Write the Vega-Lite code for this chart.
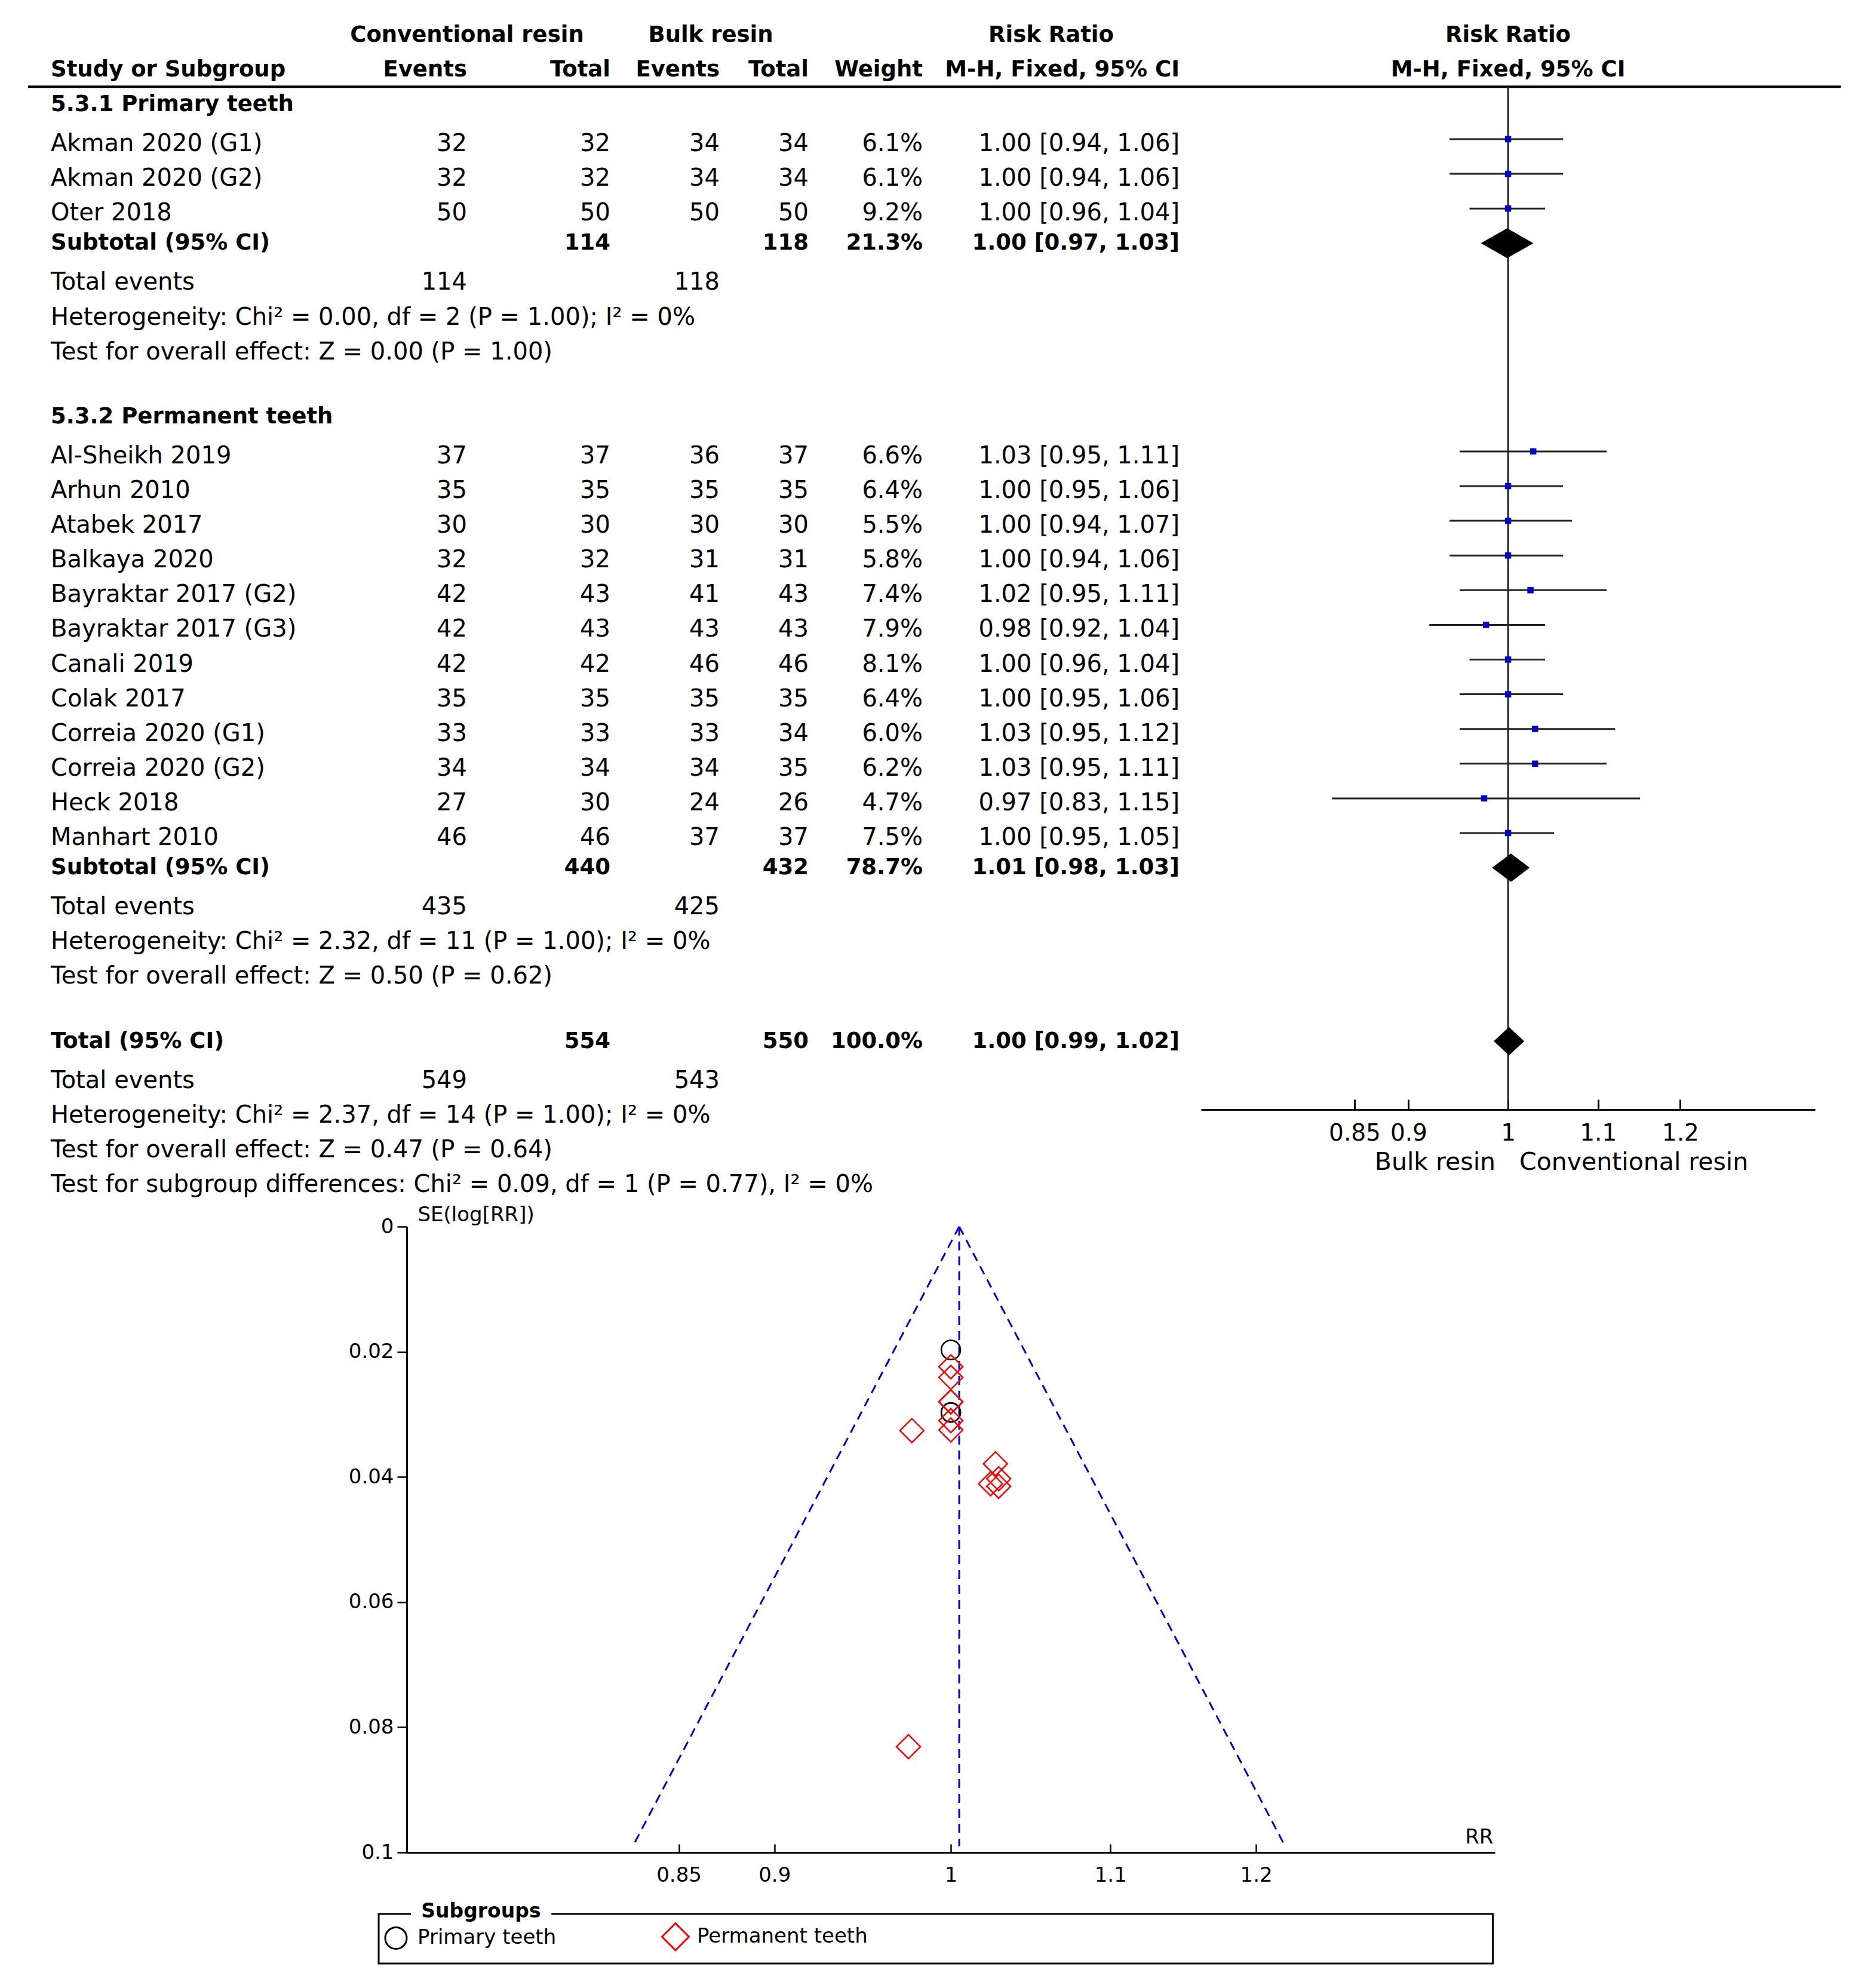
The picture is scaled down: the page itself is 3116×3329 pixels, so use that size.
{
  "$schema": "https://vega.github.io/schema/vega-lite/v6.json",
  "width": 3116,
  "height": 3329,
  "autosize": {"type": "none"},
  "padding": 0,
  "background": "white",
  "config": {"font": "DejaVu Sans", "view": {"stroke": null}},
  "datasets": {
    "table": [
      {"line": -2, "kind": "bold", "label": "Study or Subgroup", "e1": "Events", "n1": "Total", "e2": "Events", "n2": "Total", "weight": "Weight", "ci": "M-H, Fixed, 95% CI"},
      {"line": -1, "kind": "bold", "label": "5.3.1 Primary teeth"},
      {"line": 0, "kind": "row", "label": "Akman 2020 (G1)", "e1": 32, "n1": 32, "e2": 34, "n2": 34, "weight": "6.1%", "ci": "1.00 [0.94, 1.06]"},
      {"line": 1, "kind": "row", "label": "Akman 2020 (G2)", "e1": 32, "n1": 32, "e2": 34, "n2": 34, "weight": "6.1%", "ci": "1.00 [0.94, 1.06]"},
      {"line": 2, "kind": "row", "label": "Oter 2018", "e1": 50, "n1": 50, "e2": 50, "n2": 50, "weight": "9.2%", "ci": "1.00 [0.96, 1.04]"},
      {"line": 3, "kind": "bold", "label": "Subtotal (95% CI)", "n1": 114, "n2": 118, "weight": "21.3%", "ci": "1.00 [0.97, 1.03]"},
      {"line": 4, "kind": "row", "label": "Total events", "e1": 114, "e2": 118},
      {"line": 5, "kind": "row", "label": "Heterogeneity: Chi² = 0.00, df = 2 (P = 1.00); I² = 0%"},
      {"line": 6, "kind": "row", "label": "Test for overall effect: Z = 0.00 (P = 1.00)"},
      {"line": 8, "kind": "bold", "label": "5.3.2 Permanent teeth"},
      {"line": 9, "kind": "row", "label": "Al-Sheikh 2019", "e1": 37, "n1": 37, "e2": 36, "n2": 37, "weight": "6.6%", "ci": "1.03 [0.95, 1.11]"},
      {"line": 10, "kind": "row", "label": "Arhun 2010", "e1": 35, "n1": 35, "e2": 35, "n2": 35, "weight": "6.4%", "ci": "1.00 [0.95, 1.06]"},
      {"line": 11, "kind": "row", "label": "Atabek 2017", "e1": 30, "n1": 30, "e2": 30, "n2": 30, "weight": "5.5%", "ci": "1.00 [0.94, 1.07]"},
      {"line": 12, "kind": "row", "label": "Balkaya 2020", "e1": 32, "n1": 32, "e2": 31, "n2": 31, "weight": "5.8%", "ci": "1.00 [0.94, 1.06]"},
      {"line": 13, "kind": "row", "label": "Bayraktar 2017 (G2)", "e1": 42, "n1": 43, "e2": 41, "n2": 43, "weight": "7.4%", "ci": "1.02 [0.95, 1.11]"},
      {"line": 14, "kind": "row", "label": "Bayraktar 2017 (G3)", "e1": 42, "n1": 43, "e2": 43, "n2": 43, "weight": "7.9%", "ci": "0.98 [0.92, 1.04]"},
      {"line": 15, "kind": "row", "label": "Canali 2019", "e1": 42, "n1": 42, "e2": 46, "n2": 46, "weight": "8.1%", "ci": "1.00 [0.96, 1.04]"},
      {"line": 16, "kind": "row", "label": "Colak 2017", "e1": 35, "n1": 35, "e2": 35, "n2": 35, "weight": "6.4%", "ci": "1.00 [0.95, 1.06]"},
      {"line": 17, "kind": "row", "label": "Correia 2020 (G1)", "e1": 33, "n1": 33, "e2": 33, "n2": 34, "weight": "6.0%", "ci": "1.03 [0.95, 1.12]"},
      {"line": 18, "kind": "row", "label": "Correia 2020 (G2)", "e1": 34, "n1": 34, "e2": 34, "n2": 35, "weight": "6.2%", "ci": "1.03 [0.95, 1.11]"},
      {"line": 19, "kind": "row", "label": "Heck 2018", "e1": 27, "n1": 30, "e2": 24, "n2": 26, "weight": "4.7%", "ci": "0.97 [0.83, 1.15]"},
      {"line": 20, "kind": "row", "label": "Manhart 2010", "e1": 46, "n1": 46, "e2": 37, "n2": 37, "weight": "7.5%", "ci": "1.00 [0.95, 1.05]"},
      {"line": 21, "kind": "bold", "label": "Subtotal (95% CI)", "n1": 440, "n2": 432, "weight": "78.7%", "ci": "1.01 [0.98, 1.03]"},
      {"line": 22, "kind": "row", "label": "Total events", "e1": 435, "e2": 425},
      {"line": 23, "kind": "row", "label": "Heterogeneity: Chi² = 2.32, df = 11 (P = 1.00); I² = 0%"},
      {"line": 24, "kind": "row", "label": "Test for overall effect: Z = 0.50 (P = 0.62)"},
      {"line": 26, "kind": "bold", "label": "Total (95% CI)", "n1": 554, "n2": 550, "weight": "100.0%", "ci": "1.00 [0.99, 1.02]"},
      {"line": 27, "kind": "row", "label": "Total events", "e1": 549, "e2": 543},
      {"line": 28, "kind": "row", "label": "Heterogeneity: Chi² = 2.37, df = 14 (P = 1.00); I² = 0%"},
      {"line": 29, "kind": "row", "label": "Test for overall effect: Z = 0.47 (P = 0.64)"},
      {"line": 30, "kind": "row", "label": "Test for subgroup differences: Chi² = 0.09, df = 1 (P = 0.77), I² = 0%"}
    ],
    "spans": [
      {"label": "Conventional resin", "line": -3, "col": 2},
      {"label": "Bulk resin", "line": -3, "col": 4},
      {"label": "Risk Ratio", "line": -3, "col": 8}
    ],
    "studies": [
      {"study": "Akman 2020 (G1)", "subgroup": "Primary teeth", "line": 0, "rr": 1.0, "lo": 0.94, "hi": 1.06, "se": 0.0297},
      {"study": "Akman 2020 (G2)", "subgroup": "Primary teeth", "line": 1, "rr": 1.0, "lo": 0.94, "hi": 1.06, "se": 0.0297},
      {"study": "Oter 2018", "subgroup": "Primary teeth", "line": 2, "rr": 1.0, "lo": 0.96, "hi": 1.04, "se": 0.0197},
      {"study": "Al-Sheikh 2019", "subgroup": "Permanent teeth", "line": 9, "rr": 1.027, "lo": 0.95, "hi": 1.11, "se": 0.0379},
      {"study": "Arhun 2010", "subgroup": "Permanent teeth", "line": 10, "rr": 1.0, "lo": 0.95, "hi": 1.06, "se": 0.028},
      {"study": "Atabek 2017", "subgroup": "Permanent teeth", "line": 11, "rr": 1.0, "lo": 0.94, "hi": 1.07, "se": 0.0325},
      {"study": "Balkaya 2020", "subgroup": "Permanent teeth", "line": 12, "rr": 1.0, "lo": 0.94, "hi": 1.06, "se": 0.031},
      {"study": "Bayraktar 2017 (G2)", "subgroup": "Permanent teeth", "line": 13, "rr": 1.024, "lo": 0.95, "hi": 1.11, "se": 0.0411},
      {"study": "Bayraktar 2017 (G3)", "subgroup": "Permanent teeth", "line": 14, "rr": 0.977, "lo": 0.92, "hi": 1.04, "se": 0.0326},
      {"study": "Canali 2019", "subgroup": "Permanent teeth", "line": 15, "rr": 1.0, "lo": 0.96, "hi": 1.04, "se": 0.0224},
      {"study": "Colak 2017", "subgroup": "Permanent teeth", "line": 16, "rr": 1.0, "lo": 0.95, "hi": 1.06, "se": 0.028},
      {"study": "Correia 2020 (G1)", "subgroup": "Permanent teeth", "line": 17, "rr": 1.029, "lo": 0.95, "hi": 1.12, "se": 0.0415},
      {"study": "Correia 2020 (G2)", "subgroup": "Permanent teeth", "line": 18, "rr": 1.029, "lo": 0.95, "hi": 1.11, "se": 0.0403},
      {"study": "Heck 2018", "subgroup": "Permanent teeth", "line": 19, "rr": 0.975, "lo": 0.83, "hi": 1.15, "se": 0.0831},
      {"study": "Manhart 2010", "subgroup": "Permanent teeth", "line": 20, "rr": 1.0, "lo": 0.95, "hi": 1.05, "se": 0.0241}
    ],
    "pooled": [
      {"group": "5.3.1 Primary teeth", "line": 3, "rr": 0.999},
      {"group": "5.3.2 Permanent teeth", "line": 21, "rr": 1.003},
      {"group": "Total", "line": 26, "rr": 1.001}
    ],
    "funnel": [
      {"side": "lower", "rr": 1.005, "se": 0},
      {"side": "lower", "rr": 0.827, "se": 0.099},
      {"side": "estimate", "rr": 1.005, "se": 0},
      {"side": "estimate", "rr": 1.005, "se": 0.099},
      {"side": "upper", "rr": 1.005, "se": 0},
      {"side": "upper", "rr": 1.221, "se": 0.099}
    ]
  },
  "layer": [
    {
      "data": {"values": [{}]},
      "mark": {"type": "rule", "color": "black", "strokeWidth": 4},
      "encoding": {
        "x": {"datum": 0, "type": "quantitative", "scale": {"domain": [0,1,2,3,4,5,6,7,8,9,10], "range": [47,85,782,1022,1190,1205,1354,1545,1760,1975,3082], "nice": false, "zero": false}, "axis": null},
        "x2": {"datum": 10},
        "y": {"datum": -1.65, "type": "quantitative", "scale": {"domain": [0, 30], "range": [241, 1984], "nice": false, "zero": false}, "axis": null}
      }
    },
    {
      "data": {"name": "spans"},
      "mark": {"type": "text", "align": "center", "baseline": "middle", "fontWeight": "bold", "fontSize": 37, "dy": -8},
      "encoding": {
        "x": {"field": "col", "type": "quantitative", "scale": {"domain": [0,1,2,3,4,5,6,7,8,9,10], "range": [47,85,782,1022,1190,1205,1354,1545,1760,1975,3082], "nice": false, "zero": false}, "axis": null},
        "y": {"field": "line", "type": "quantitative", "scale": {"domain": [0, 30], "range": [241, 1984], "nice": false, "zero": false}, "axis": null},
        "text": {"field": "label", "type": "nominal"}
      }
    },
    {
      "data": {"name": "table"},
      "transform": [{"filter": "datum.kind === 'row'"}],
      "mark": {"type": "text", "align": "left", "baseline": "middle", "fontSize": 40},
      "encoding": {
        "x": {"datum": 1, "type": "quantitative", "scale": {"domain": [0,1,2,3,4,5,6,7,8,9,10], "range": [47,85,782,1022,1190,1205,1354,1545,1760,1975,3082], "nice": false, "zero": false}, "axis": null},
        "y": {"field": "line", "type": "quantitative", "scale": {"domain": [0, 30], "range": [241, 1984], "nice": false, "zero": false}, "axis": null},
        "text": {"field": "label", "type": "nominal"}
      }
    },
    {
      "data": {"name": "table"},
      "transform": [{"filter": "datum.kind === 'row' && isValid(datum.e1)"}],
      "mark": {"type": "text", "align": "right", "baseline": "middle", "fontSize": 40},
      "encoding": {
        "x": {"datum": 2, "type": "quantitative", "scale": {"domain": [0,1,2,3,4,5,6,7,8,9,10], "range": [47,85,782,1022,1190,1205,1354,1545,1760,1975,3082], "nice": false, "zero": false}, "axis": null},
        "y": {"field": "line", "type": "quantitative", "scale": {"domain": [0, 30], "range": [241, 1984], "nice": false, "zero": false}, "axis": null},
        "text": {"field": "e1", "type": "nominal"}
      }
    },
    {
      "data": {"name": "table"},
      "transform": [{"filter": "datum.kind === 'row' && isValid(datum.n1)"}],
      "mark": {"type": "text", "align": "right", "baseline": "middle", "fontSize": 40},
      "encoding": {
        "x": {"datum": 3, "type": "quantitative", "scale": {"domain": [0,1,2,3,4,5,6,7,8,9,10], "range": [47,85,782,1022,1190,1205,1354,1545,1760,1975,3082], "nice": false, "zero": false}, "axis": null},
        "y": {"field": "line", "type": "quantitative", "scale": {"domain": [0, 30], "range": [241, 1984], "nice": false, "zero": false}, "axis": null},
        "text": {"field": "n1", "type": "nominal"}
      }
    },
    {
      "data": {"name": "table"},
      "transform": [{"filter": "datum.kind === 'row' && isValid(datum.e2)"}],
      "mark": {"type": "text", "align": "right", "baseline": "middle", "fontSize": 40},
      "encoding": {
        "x": {"datum": 5, "type": "quantitative", "scale": {"domain": [0,1,2,3,4,5,6,7,8,9,10], "range": [47,85,782,1022,1190,1205,1354,1545,1760,1975,3082], "nice": false, "zero": false}, "axis": null},
        "y": {"field": "line", "type": "quantitative", "scale": {"domain": [0, 30], "range": [241, 1984], "nice": false, "zero": false}, "axis": null},
        "text": {"field": "e2", "type": "nominal"}
      }
    },
    {
      "data": {"name": "table"},
      "transform": [{"filter": "datum.kind === 'row' && isValid(datum.n2)"}],
      "mark": {"type": "text", "align": "right", "baseline": "middle", "fontSize": 40},
      "encoding": {
        "x": {"datum": 6, "type": "quantitative", "scale": {"domain": [0,1,2,3,4,5,6,7,8,9,10], "range": [47,85,782,1022,1190,1205,1354,1545,1760,1975,3082], "nice": false, "zero": false}, "axis": null},
        "y": {"field": "line", "type": "quantitative", "scale": {"domain": [0, 30], "range": [241, 1984], "nice": false, "zero": false}, "axis": null},
        "text": {"field": "n2", "type": "nominal"}
      }
    },
    {
      "data": {"name": "table"},
      "transform": [{"filter": "datum.kind === 'row' && isValid(datum.weight)"}],
      "mark": {"type": "text", "align": "right", "baseline": "middle", "fontSize": 40},
      "encoding": {
        "x": {"datum": 7, "type": "quantitative", "scale": {"domain": [0,1,2,3,4,5,6,7,8,9,10], "range": [47,85,782,1022,1190,1205,1354,1545,1760,1975,3082], "nice": false, "zero": false}, "axis": null},
        "y": {"field": "line", "type": "quantitative", "scale": {"domain": [0, 30], "range": [241, 1984], "nice": false, "zero": false}, "axis": null},
        "text": {"field": "weight", "type": "nominal"}
      }
    },
    {
      "data": {"name": "table"},
      "transform": [{"filter": "datum.kind === 'row' && isValid(datum.ci)"}],
      "mark": {"type": "text", "align": "right", "baseline": "middle", "fontSize": 40},
      "encoding": {
        "x": {"datum": 9, "type": "quantitative", "scale": {"domain": [0,1,2,3,4,5,6,7,8,9,10], "range": [47,85,782,1022,1190,1205,1354,1545,1760,1975,3082], "nice": false, "zero": false}, "axis": null},
        "y": {"field": "line", "type": "quantitative", "scale": {"domain": [0, 30], "range": [241, 1984], "nice": false, "zero": false}, "axis": null},
        "text": {"field": "ci", "type": "nominal"}
      }
    },
    {
      "data": {"name": "table"},
      "transform": [{"filter": "datum.kind === 'bold'"}],
      "mark": {"type": "text", "align": "left", "baseline": "middle", "fontSize": 37, "fontWeight": "bold", "dy": -8},
      "encoding": {
        "x": {"datum": 1, "type": "quantitative", "scale": {"domain": [0,1,2,3,4,5,6,7,8,9,10], "range": [47,85,782,1022,1190,1205,1354,1545,1760,1975,3082], "nice": false, "zero": false}, "axis": null},
        "y": {"field": "line", "type": "quantitative", "scale": {"domain": [0, 30], "range": [241, 1984], "nice": false, "zero": false}, "axis": null},
        "text": {"field": "label", "type": "nominal"}
      }
    },
    {
      "data": {"name": "table"},
      "transform": [{"filter": "datum.kind === 'bold' && isValid(datum.e1)"}],
      "mark": {"type": "text", "align": "right", "baseline": "middle", "fontSize": 37, "fontWeight": "bold", "dy": -8},
      "encoding": {
        "x": {"datum": 2, "type": "quantitative", "scale": {"domain": [0,1,2,3,4,5,6,7,8,9,10], "range": [47,85,782,1022,1190,1205,1354,1545,1760,1975,3082], "nice": false, "zero": false}, "axis": null},
        "y": {"field": "line", "type": "quantitative", "scale": {"domain": [0, 30], "range": [241, 1984], "nice": false, "zero": false}, "axis": null},
        "text": {"field": "e1", "type": "nominal"}
      }
    },
    {
      "data": {"name": "table"},
      "transform": [{"filter": "datum.kind === 'bold' && isValid(datum.n1)"}],
      "mark": {"type": "text", "align": "right", "baseline": "middle", "fontSize": 37, "fontWeight": "bold", "dy": -8},
      "encoding": {
        "x": {"datum": 3, "type": "quantitative", "scale": {"domain": [0,1,2,3,4,5,6,7,8,9,10], "range": [47,85,782,1022,1190,1205,1354,1545,1760,1975,3082], "nice": false, "zero": false}, "axis": null},
        "y": {"field": "line", "type": "quantitative", "scale": {"domain": [0, 30], "range": [241, 1984], "nice": false, "zero": false}, "axis": null},
        "text": {"field": "n1", "type": "nominal"}
      }
    },
    {
      "data": {"name": "table"},
      "transform": [{"filter": "datum.kind === 'bold' && isValid(datum.e2)"}],
      "mark": {"type": "text", "align": "right", "baseline": "middle", "fontSize": 37, "fontWeight": "bold", "dy": -8},
      "encoding": {
        "x": {"datum": 5, "type": "quantitative", "scale": {"domain": [0,1,2,3,4,5,6,7,8,9,10], "range": [47,85,782,1022,1190,1205,1354,1545,1760,1975,3082], "nice": false, "zero": false}, "axis": null},
        "y": {"field": "line", "type": "quantitative", "scale": {"domain": [0, 30], "range": [241, 1984], "nice": false, "zero": false}, "axis": null},
        "text": {"field": "e2", "type": "nominal"}
      }
    },
    {
      "data": {"name": "table"},
      "transform": [{"filter": "datum.kind === 'bold' && isValid(datum.n2)"}],
      "mark": {"type": "text", "align": "right", "baseline": "middle", "fontSize": 37, "fontWeight": "bold", "dy": -8},
      "encoding": {
        "x": {"datum": 6, "type": "quantitative", "scale": {"domain": [0,1,2,3,4,5,6,7,8,9,10], "range": [47,85,782,1022,1190,1205,1354,1545,1760,1975,3082], "nice": false, "zero": false}, "axis": null},
        "y": {"field": "line", "type": "quantitative", "scale": {"domain": [0, 30], "range": [241, 1984], "nice": false, "zero": false}, "axis": null},
        "text": {"field": "n2", "type": "nominal"}
      }
    },
    {
      "data": {"name": "table"},
      "transform": [{"filter": "datum.kind === 'bold' && isValid(datum.weight)"}],
      "mark": {"type": "text", "align": "right", "baseline": "middle", "fontSize": 37, "fontWeight": "bold", "dy": -8},
      "encoding": {
        "x": {"datum": 7, "type": "quantitative", "scale": {"domain": [0,1,2,3,4,5,6,7,8,9,10], "range": [47,85,782,1022,1190,1205,1354,1545,1760,1975,3082], "nice": false, "zero": false}, "axis": null},
        "y": {"field": "line", "type": "quantitative", "scale": {"domain": [0, 30], "range": [241, 1984], "nice": false, "zero": false}, "axis": null},
        "text": {"field": "weight", "type": "nominal"}
      }
    },
    {
      "data": {"name": "table"},
      "transform": [{"filter": "datum.kind === 'bold' && isValid(datum.ci)"}],
      "mark": {"type": "text", "align": "right", "baseline": "middle", "fontSize": 37, "fontWeight": "bold", "dy": -8},
      "encoding": {
        "x": {"datum": 9, "type": "quantitative", "scale": {"domain": [0,1,2,3,4,5,6,7,8,9,10], "range": [47,85,782,1022,1190,1205,1354,1545,1760,1975,3082], "nice": false, "zero": false}, "axis": null},
        "y": {"field": "line", "type": "quantitative", "scale": {"domain": [0, 30], "range": [241, 1984], "nice": false, "zero": false}, "axis": null},
        "text": {"field": "ci", "type": "nominal"}
      }
    },
    {
      "data": {"values": [{}]},
      "mark": {"type": "rule", "color": "#222222", "strokeWidth": 3},
      "encoding": {
        "x": {"datum": 1, "type": "quantitative", "scale": {"type": "log", "domain": [0.7225, 1.384], "range": [2011, 3039]}, "axis": null},
        "y": {"datum": -1.52, "type": "quantitative", "scale": {"domain": [0, 30], "range": [233, 1976], "nice": false, "zero": false}, "axis": null},
        "y2": {"datum": 27.97}
      }
    },
    {
      "data": {"name": "studies"},
      "mark": {"type": "rule", "color": "#222222", "strokeWidth": 3},
      "encoding": {
        "x": {"field": "lo", "type": "quantitative", "scale": {"type": "log", "domain": [0.7225, 1.384], "range": [2011, 3039]},
          "axis": {"orient": "bottom", "offset": -1471, "values": [0.85, 0.9, 1, 1.1, 1.2], "format": "~g", "title": null, "grid": false, "tickSize": -17, "tickWidth": 3, "tickColor": "black", "domainWidth": 3, "domainColor": "black", "labelFontSize": 39, "labelColor": "black", "labelPadding": 37, "labelFlush": false, "labelOverlap": false, "labelBound": false}},
        "x2": {"field": "hi"},
        "y": {"field": "line", "type": "quantitative", "scale": {"domain": [0, 30], "range": [233, 1976], "nice": false, "zero": false}, "axis": null}
      }
    },
    {
      "data": {"name": "studies"},
      "mark": {"type": "point", "shape": "square", "filled": true, "color": "#0000cc", "size": 110, "opacity": 1},
      "encoding": {
        "x": {"field": "rr", "type": "quantitative", "scale": {"type": "log", "domain": [0.7225, 1.384], "range": [2011, 3039]}, "axis": null},
        "y": {"field": "line", "type": "quantitative", "scale": {"domain": [0, 30], "range": [233, 1976], "nice": false, "zero": false}, "axis": null}
      }
    },
    {
      "data": {"name": "pooled"},
      "mark": {"type": "point", "filled": true, "color": "black", "size": 2500, "opacity": 1},
      "encoding": {
        "x": {"field": "rr", "type": "quantitative", "scale": {"type": "log", "domain": [0.7225, 1.384], "range": [2011, 3039]}, "axis": null},
        "y": {"field": "line", "type": "quantitative", "scale": {"domain": [0, 30], "range": [233, 1976], "nice": false, "zero": false}, "axis": null},
        "shape": {"field": "group", "type": "nominal", "scale": {"domain": ["5.3.1 Primary teeth", "5.3.2 Permanent teeth", "Total"], "range": ["M-1.76,0L0,-1L1.76,0L0,1Z", "M-1.26,0L0,-0.95L1.26,0L0,0.95Z", "M-1.02,0L0,-0.95L1.02,0L0,0.95Z"]}, "legend": null}
      }
    },
    {
      "data": {"values": [{"label": "Risk Ratio", "line": -3}, {"label": "M-H, Fixed, 95% CI", "line": -2}]},
      "mark": {"type": "text", "align": "center", "baseline": "middle", "fontWeight": "bold", "fontSize": 37},
      "encoding": {
        "x": {"datum": 1, "type": "quantitative", "scale": {"type": "log", "domain": [0.7225, 1.384], "range": [2011, 3039]}, "axis": null},
        "y": {"field": "line", "type": "quantitative", "scale": {"domain": [0, 30], "range": [233, 1976], "nice": false, "zero": false}, "axis": null},
        "text": {"field": "label", "type": "nominal"}
      }
    },
    {
      "data": {"values": [{"label": "Bulk resin"}]},
      "mark": {"type": "text", "align": "right", "baseline": "middle", "fontSize": 41, "dx": -21},
      "encoding": {
        "x": {"datum": 1, "type": "quantitative", "scale": {"type": "log", "domain": [0.7225, 1.384], "range": [2011, 3039]}, "axis": null},
        "y": {"datum": 29.5, "type": "quantitative", "scale": {"domain": [0, 30], "range": [233, 1976], "nice": false, "zero": false}, "axis": null},
        "text": {"field": "label", "type": "nominal"}
      }
    },
    {
      "data": {"values": [{"label": "Conventional resin"}]},
      "mark": {"type": "text", "align": "left", "baseline": "middle", "fontSize": 41, "dx": 19},
      "encoding": {
        "x": {"datum": 1, "type": "quantitative", "scale": {"type": "log", "domain": [0.7225, 1.384], "range": [2011, 3039]}, "axis": null},
        "y": {"datum": 29.5, "type": "quantitative", "scale": {"domain": [0, 30], "range": [233, 1976], "nice": false, "zero": false}, "axis": null},
        "text": {"field": "label", "type": "nominal"}
      }
    },
    {
      "data": {"name": "funnel"},
      "mark": {"type": "line", "color": "#0000cc", "strokeWidth": 3, "strokeDash": [15, 10]},
      "encoding": {
        "x": {"field": "rr", "type": "quantitative", "scale": {"type": "log", "domain": [0.7225, 1.384], "range": [681, 2503]}, "axis": null},
        "y": {"field": "se", "type": "quantitative", "scale": {"type": "linear", "domain": [0, 0.1], "range": [2054, 3102], "nice": false, "zero": false}, "axis": null},
        "detail": {"field": "side", "type": "nominal"},
        "order": {"field": "se", "type": "quantitative"}
      }
    },
    {
      "data": {"name": "studies"},
      "mark": {"type": "point", "filled": false, "strokeWidth": 2.5, "size": 1024, "opacity": 1},
      "encoding": {
        "x": {"field": "rr", "type": "quantitative", "scale": {"type": "log", "domain": [0.7225, 1.384], "range": [681, 2503]},
          "axis": {"orient": "bottom", "offset": -227, "values": [0.85, 0.9, 1, 1.1, 1.2], "format": "~g", "title": "RR", "titleX": 2500, "titleY": -26, "titleAlign": "right", "titleBaseline": "middle", "titleAngle": 0, "titleFontSize": 34, "titleFontWeight": "normal", "titleColor": "black", "grid": false, "tickSize": -14, "tickWidth": 2.5, "tickColor": "black", "domainWidth": 3, "domainColor": "black", "labelFontSize": 34, "labelColor": "black", "labelPadding": 35, "labelFlush": false, "labelOverlap": false, "labelBound": false}},
        "y": {"field": "se", "type": "quantitative", "scale": {"type": "linear", "domain": [0, 0.1], "range": [2054, 3102], "nice": false, "zero": false},
          "axis": {"orient": "left", "offset": -681, "values": [0, 0.02, 0.04, 0.06, 0.08, 0.1], "format": "~g", "title": "SE(log[RR])", "titleX": 18, "titleY": 2034, "titleAlign": "left", "titleBaseline": "middle", "titleAngle": 0, "titleFontSize": 34, "titleFontWeight": "normal", "titleColor": "black", "grid": false, "tickSize": 16, "tickWidth": 2.5, "tickColor": "black", "domainWidth": 3, "domainColor": "black", "labelFontSize": 34, "labelColor": "black", "labelPadding": 6, "labelFlush": false, "labelOverlap": false, "labelBound": false}},
        "color": {"field": "subgroup", "type": "nominal", "scale": {"domain": ["Primary teeth", "Permanent teeth"], "range": ["black", "#ff0000"]},
          "legend": {"orient": "none", "legendX": 643, "legendY": 3223, "direction": "horizontal", "title": null, "labelFontSize": 34, "labelColor": "black", "labelLimit": 0, "labelOffset": 16, "columnPadding": 170, "symbolStrokeWidth": 3, "symbolSize": 1300, "padding": 0}},
        "shape": {"field": "subgroup", "type": "nominal", "scale": {"domain": ["Primary teeth", "Permanent teeth"], "range": ["circle", "M-1.25,0L0,-1.25L1.25,0L0,1.25Z"]},
          "legend": {"orient": "none", "legendX": 643, "legendY": 3223, "direction": "horizontal", "title": null, "labelFontSize": 34, "labelColor": "black", "labelLimit": 0, "labelOffset": 16, "columnPadding": 170, "symbolStrokeWidth": 3, "symbolSize": 1300, "padding": 0}}
      }
    },
    {
      "data": {"values": [{}]},
      "mark": {"type": "rect", "fillOpacity": 0, "stroke": "black", "strokeWidth": 3},
      "encoding": {
        "x": {"datum": 0.7105, "type": "quantitative", "scale": {"type": "log", "domain": [0.7225, 1.384], "range": [681, 2503]}, "axis": null},
        "x2": {"datum": 1.3823},
        "y": {"datum": 0.10983, "type": "quantitative", "scale": {"type": "linear", "domain": [0, 0.1], "range": [2054, 3102], "nice": false, "zero": false}, "axis": null},
        "y2": {"datum": 0.11775}
      }
    },
    {
      "data": {"values": [{}]},
      "mark": {"type": "rect", "fill": "white", "strokeWidth": 0},
      "encoding": {
        "x": {"datum": 0.7243, "type": "quantitative", "scale": {"type": "log", "domain": [0.7225, 1.384], "range": [681, 2503]}, "axis": null},
        "x2": {"datum": 0.7877},
        "y": {"datum": 0.1089, "type": "quantitative", "scale": {"type": "linear", "domain": [0, 0.1], "range": [2054, 3102], "nice": false, "zero": false}, "axis": null},
        "y2": {"datum": 0.1108}
      }
    },
    {
      "data": {"values": [{"title": "Subgroups"}]},
      "mark": {"type": "text", "align": "center", "baseline": "middle", "fontWeight": "bold", "fontSize": 33},
      "encoding": {
        "x": {"datum": 0.7553, "type": "quantitative", "scale": {"type": "log", "domain": [0.7225, 1.384], "range": [681, 2503]}, "axis": null},
        "y": {"datum": 0.10945, "type": "quantitative", "scale": {"type": "linear", "domain": [0, 0.1], "range": [2054, 3102], "nice": false, "zero": false}, "axis": null},
        "text": {"field": "title", "type": "nominal"}
      }
    }
  ],
  "resolve": {
    "scale": {"x": "independent", "y": "independent", "shape": "independent", "color": "independent"},
    "axis": {"x": "independent", "y": "independent"},
    "legend": {"shape": "independent", "color": "independent"}
  }
}
